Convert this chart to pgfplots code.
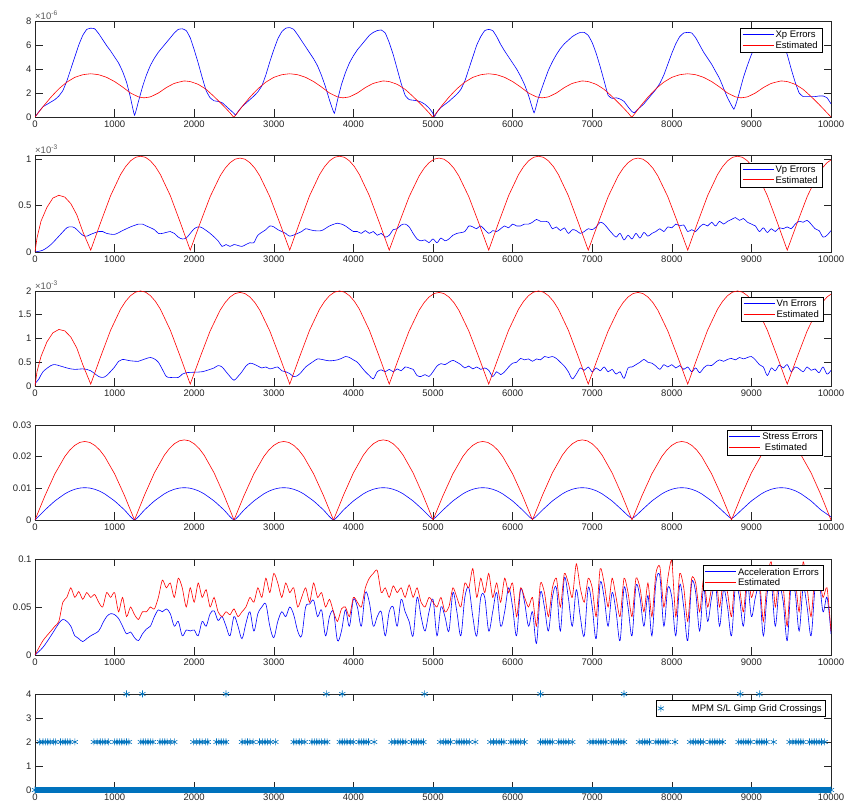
\documentclass[border=0pt]{standalone}
\usepackage{fontspec}
\setmainfont{Liberation Sans}
\usepackage{pgfplots}
\pgfplotsset{compat=1.18}
\definecolor{mblue}{rgb}{0,0.447,0.741}
\definecolor{axgray}{gray}{0.15}
\newcommand{\tfont}{\fontsize{9.5}{11}\selectfont}
\tikzset{sclab/.style={anchor=south west, inner sep=0pt, font=\fontsize{9.5}{10}\selectfont, text=black!65, yshift=1.5pt}}
\pgfplotsset{
  myax/.style={
    scale only axis, width=796pt,
    xmin=0, xmax=10000, ymin=0,
    xtick={0,1000,2000,3000,4000,5000,6000,7000,8000,9000,10000},
    xticklabels={0,1000,2000,3000,4000,5000,6000,7000,8000,9000,10000},
    axis line style={axgray, line width=0.6pt},
    major tick length=7.5pt,
    tick style={axgray, line width=0.6pt},
    tick label style={font=\tfont, text=axgray},
    scaled ticks=false,
    clip mode=individual,
    legend style={anchor=north east, draw, line width=0.5pt, fill=white,
      font=\tfont, inner xsep=2pt, inner ysep=1pt, row sep=-2pt},
    legend cell align=left,
    every axis plot/.append style={line width=0.6pt},
  },
  legblue/.style={legend image code/.code={\node[inner sep=0pt, anchor=west] at (0pt,0pt) {\textcolor{blue}{\rule[-0.4pt]{31pt}{0.8pt}}};}},
  legred/.style={legend image code/.code={\node[inner sep=0pt, anchor=west] at (0pt,0pt) {\textcolor{red}{\rule[-0.4pt]{31pt}{0.8pt}}};}},
}
\begin{document}
\begin{tikzpicture}
\path[use as bounding box] (0,0) rectangle (846pt,803pt);

% ---------------- Axis 1: Xp ----------------
\begin{axis}[myax, at={(35pt,686pt)}, anchor=south west, height=96pt,
  ymax=8, ytick={0,2,4,6,8}, yticklabels={0,2,4,6,8},
  legend style={at={(rel axis cs:0.9887,0.927)}}]
\addplot[color=blue, smooth, tension=0.2, legblue] coordinates {(0,0)(50,0.45)(100,0.85)(150,1.05)(200,1.25)(250,1.45)(300,1.75)(350,2.2)(400,3.0)(450,4.0)(500,5.0)(550,6.0)(600,6.8)(650,7.3)(700,7.4)(750,7.35)(800,6.95)(850,6.45)(900,5.95)(950,5.5)(1000,5.0)(1050,4.5)(1100,3.8)(1150,2.9)(1200,1.6)(1250,0.15)(1300,1.3)(1350,2.5)(1400,3.5)(1450,4.3)(1500,4.9)(1550,5.4)(1600,5.8)(1650,6.2)(1700,6.6)(1750,7.0)(1800,7.3)(1850,7.35)(1900,7.2)(1950,6.6)(2000,5.6)(2050,4.5)(2100,3.3)(2150,2.2)(2200,1.6)(2250,1.35)(2300,1.3)(2350,1.2)(2400,0.9)(2450,0.6)(2500,0.3)(2520,0.15)(2550,0.45)(2600,0.85)(2650,1.15)(2700,1.45)(2750,1.75)(2800,2.1)(2850,2.6)(2900,3.5)(2950,4.6)(3000,5.6)(3050,6.5)(3100,7.1)(3150,7.4)(3200,7.45)(3250,7.3)(3300,6.85)(3350,6.35)(3400,5.85)(3450,5.35)(3500,4.85)(3550,4.25)(3600,3.45)(3650,2.5)(3700,1.4)(3760,0.3)(3800,1.4)(3850,2.7)(3900,3.7)(3950,4.5)(4000,5.1)(4050,5.6)(4100,6.0)(4150,6.4)(4200,6.8)(4250,7.05)(4300,7.2)(4350,7.25)(4400,7.0)(4450,6.2)(4500,5.2)(4550,4.0)(4600,2.8)(4650,1.8)(4700,1.45)(4750,1.4)(4800,1.35)(4850,1.25)(4900,1.05)(4950,0.75)(4990,0.4)(5020,0.05)(5050,0.4)(5100,0.8)(5150,1.05)(5200,1.3)(5250,1.6)(5300,1.9)(5350,2.3)(5400,3.0)(5450,4.0)(5500,5.0)(5550,6.0)(5600,6.7)(5650,7.2)(5700,7.3)(5750,7.2)(5800,6.7)(5850,6.05)(5900,5.5)(5950,5.0)(6000,4.5)(6050,4.0)(6100,3.4)(6150,2.7)(6200,1.8)(6270,0.35)(6320,1.5)(6400,3.0)(6450,3.9)(6500,4.6)(6550,5.2)(6600,5.7)(6650,6.1)(6700,6.4)(6750,6.7)(6800,6.9)(6850,7.05)(6900,7.05)(6950,6.8)(7000,6.2)(7050,5.3)(7100,4.2)(7150,3.0)(7200,1.8)(7250,1.55)(7300,1.6)(7350,1.5)(7400,1.3)(7450,0.85)(7500,0.45)(7530,0.35)(7550,0.5)(7600,0.8)(7650,1.1)(7700,1.5)(7750,1.9)(7800,2.3)(7850,2.8)(7900,3.5)(7950,4.4)(8000,5.3)(8050,6.1)(8100,6.7)(8150,7.0)(8200,7.05)(8250,7.0)(8300,6.6)(8350,6.0)(8400,5.4)(8450,4.9)(8500,4.4)(8550,3.8)(8600,3.2)(8650,2.4)(8700,1.6)(8780,0.65)(8830,1.6)(8900,3.3)(8950,4.3)(9000,5.2)(9050,5.9)(9100,6.5)(9150,6.9)(9200,7.1)(9250,7.15)(9300,7.1)(9350,6.8)(9400,6.2)(9450,5.2)(9500,4.0)(9550,2.9)(9600,2.0)(9650,1.7)(9700,1.7)(9750,1.7)(9800,1.7)(9850,1.75)(9900,1.75)(9950,1.6)(10000,1.1)};
\addlegendentry{Xp Errors}
\addplot[color=red, smooth, tension=0.2, legred] coordinates {(0,0)(100,0.85)(200,1.65)(300,2.35)(400,2.9)(500,3.3)(600,3.52)(700,3.6)(800,3.52)(900,3.3)(1000,2.95)(1100,2.5)(1200,2.0)(1300,1.68)(1370,1.6)(1450,1.68)(1550,2.0)(1650,2.45)(1750,2.8)(1870,3.0)(1950,2.95)(2050,2.72)(2150,2.3)(2250,1.7)(2350,1.05)(2450,0.35)(2500,0)(2600,0.85)(2700,1.65)(2800,2.35)(2900,2.9)(3000,3.3)(3100,3.52)(3200,3.6)(3300,3.52)(3400,3.3)(3500,2.95)(3600,2.5)(3700,2.0)(3800,1.68)(3870,1.6)(3950,1.68)(4050,2.0)(4150,2.45)(4250,2.8)(4370,3.0)(4450,2.95)(4550,2.72)(4650,2.3)(4750,1.7)(4850,1.05)(4950,0.35)(5000,0)(5100,0.85)(5200,1.65)(5300,2.35)(5400,2.9)(5500,3.3)(5600,3.52)(5700,3.6)(5800,3.52)(5900,3.3)(6000,2.95)(6100,2.5)(6200,2.0)(6300,1.68)(6370,1.6)(6450,1.68)(6550,2.0)(6650,2.45)(6750,2.8)(6870,3.0)(6950,2.95)(7050,2.72)(7150,2.3)(7250,1.7)(7350,1.05)(7450,0.35)(7500,0)(7600,0.85)(7700,1.65)(7800,2.35)(7900,2.9)(8000,3.3)(8100,3.52)(8200,3.6)(8300,3.52)(8400,3.3)(8500,2.95)(8600,2.5)(8700,2.0)(8800,1.68)(8870,1.6)(8950,1.68)(9050,2.0)(9150,2.45)(9250,2.8)(9370,3.0)(9450,2.95)(9550,2.72)(9650,2.3)(9750,1.7)(9850,1.05)(9950,0.35)(10000,0)};
\addlegendentry{Estimated}
\node[sclab] at (rel axis cs:0,1) {×10\textsuperscript{-6}};
\end{axis}

% ---------------- Axis 2: Vp ----------------
\begin{axis}[myax, at={(35pt,551pt)}, anchor=south west, height=97pt,
  ymax=1.043, ytick={0,0.5,1}, yticklabels={0,0.5,1},
  legend style={at={(rel axis cs:0.9887,0.918)}}]
\addplot[color=blue, smooth, tension=0.5, legblue] coordinates {(0,0)(100,0.02)(200,0.08)(300,0.17)(400,0.26)(450,0.27)(500,0.26)(600,0.18)(650,0.17)(700,0.19)(800,0.22)(850,0.22)(900,0.2)(1000,0.19)(1100,0.23)(1200,0.27)(1300,0.3)(1350,0.3)(1400,0.28)(1500,0.24)(1550,0.2)(1600,0.2)(1700,0.22)(1750,0.2)(1800,0.16)(1850,0.14)(1900,0.15)(1950,0.2)(2000,0.25)(2050,0.27)(2100,0.26)(2200,0.2)(2300,0.12)(2350,0.06)(2400,0.08)(2450,0.06)(2500,0.08)(2550,0.07)(2600,0.06)(2650,0.08)(2700,0.1)(2750,0.1)(2800,0.18)(2900,0.24)(2950,0.28)(3000,0.27)(3050,0.24)(3100,0.22)(3150,0.2)(3200,0.17)(3300,0.2)(3350,0.22)(3400,0.25)(3450,0.24)(3500,0.23)(3600,0.23)(3700,0.28)(3800,0.31)(3850,0.3)(3900,0.28)(4000,0.22)(4050,0.22)(4100,0.2)(4150,0.23)(4200,0.2)(4250,0.22)(4300,0.18)(4350,0.2)(4400,0.16)(4450,0.18)(4500,0.24)(4550,0.25)(4600,0.29)(4650,0.3)(4700,0.27)(4750,0.2)(4800,0.14)(4850,0.12)(4900,0.13)(4950,0.1)(5000,0.14)(5050,0.1)(5100,0.15)(5150,0.12)(5200,0.14)(5250,0.18)(5300,0.2)(5400,0.22)(5450,0.28)(5500,0.27)(5550,0.25)(5600,0.28)(5700,0.2)(5750,0.23)(5800,0.22)(5850,0.25)(5900,0.28)(5950,0.26)(6000,0.3)(6050,0.28)(6100,0.28)(6150,0.3)(6200,0.3)(6250,0.32)(6300,0.35)(6350,0.33)(6400,0.33)(6450,0.32)(6500,0.25)(6550,0.27)(6600,0.23)(6650,0.26)(6700,0.2)(6750,0.24)(6800,0.23)(6850,0.2)(6900,0.22)(6950,0.25)(7000,0.24)(7050,0.27)(7100,0.32)(7150,0.3)(7200,0.25)(7250,0.2)(7300,0.16)(7350,0.2)(7400,0.13)(7450,0.18)(7500,0.14)(7550,0.2)(7600,0.15)(7650,0.21)(7700,0.17)(7750,0.2)(7800,0.22)(7850,0.25)(7900,0.22)(7950,0.27)(8000,0.26)(8050,0.3)(8100,0.28)(8150,0.29)(8200,0.22)(8250,0.24)(8300,0.22)(8350,0.27)(8400,0.3)(8450,0.28)(8500,0.32)(8550,0.28)(8600,0.33)(8650,0.3)(8700,0.33)(8750,0.35)(8800,0.37)(8850,0.34)(8900,0.36)(8950,0.32)(9000,0.3)(9050,0.28)(9100,0.22)(9150,0.26)(9200,0.21)(9250,0.25)(9300,0.22)(9350,0.26)(9400,0.25)(9450,0.27)(9500,0.25)(9550,0.3)(9600,0.33)(9650,0.32)(9700,0.34)(9750,0.3)(9800,0.25)(9850,0.23)(9900,0.16)(9950,0.18)(10000,0.23)};
\addlegendentry{Vp Errors}
\addplot[color=red, legred] coordinates {(0,0)(25,0.15)(75,0.33)(150,0.48)(225,0.58)(300,0.61)(375,0.59)(450,0.52)(525,0.4)(600,0.22)(700,0.02)
(825,0.318)(950,0.606)(1075,0.833)(1138,0.918)(1200,0.98)(1263,1.018)(1325,1.03)(1388,1.018)(1450,0.98)(1513,0.918)(1575,0.833)(1700,0.606)(1825,0.318)(1950,0.02)
(2075,0.312)(2200,0.594)(2325,0.817)(2388,0.9)(2450,0.96)(2513,0.998)(2575,1.01)(2638,0.998)(2700,0.96)(2763,0.9)(2825,0.817)(2950,0.594)(3075,0.312)(3200,0.02)
(3325,0.318)(3450,0.606)(3575,0.833)(3638,0.918)(3700,0.98)(3763,1.018)(3825,1.03)(3888,1.018)(3950,0.98)(4013,0.918)(4075,0.833)(4200,0.606)(4325,0.318)(4450,0.02)
(4575,0.312)(4700,0.594)(4825,0.817)(4888,0.9)(4950,0.96)(5013,0.998)(5075,1.01)(5138,0.998)(5200,0.96)(5263,0.9)(5325,0.817)(5450,0.594)(5575,0.312)(5700,0.02)
(5825,0.318)(5950,0.606)(6075,0.833)(6138,0.918)(6200,0.98)(6263,1.018)(6325,1.03)(6388,1.018)(6450,0.98)(6513,0.918)(6575,0.833)(6700,0.606)(6825,0.318)(6950,0.02)
(7075,0.312)(7200,0.594)(7325,0.817)(7388,0.9)(7450,0.96)(7513,0.998)(7575,1.01)(7638,0.998)(7700,0.96)(7763,0.9)(7825,0.817)(7950,0.594)(8075,0.312)(8200,0.02)
(8325,0.318)(8450,0.606)(8575,0.833)(8638,0.918)(8700,0.98)(8763,1.018)(8825,1.03)(8888,1.018)(8950,0.98)(9013,0.918)(9075,0.833)(9200,0.606)(9325,0.318)(9450,0.02)
(9575,0.312)(9700,0.594)(9825,0.817)(9888,0.9)(9950,0.96)(10000,0.99)};
\addlegendentry{Estimated}
\node[sclab] at (rel axis cs:0,1) {×10\textsuperscript{-3}};
\end{axis}

% ---------------- Axis 3: Vn ----------------
\begin{axis}[myax, at={(35pt,417pt)}, anchor=south west, height=95pt,
  ymax=2.0, ytick={0,0.5,1,1.5,2}, yticklabels={0,0.5,1,1.5,2},
  legend style={at={(rel axis cs:0.99,0.937)}}]
\addplot[color=blue, smooth, tension=0.5, legblue] coordinates {(0,0.05)(50,0.15)(100,0.3)(200,0.43)(250,0.45)(300,0.43)(400,0.38)(450,0.36)(500,0.35)(600,0.36)(650,0.35)(700,0.32)(750,0.26)(800,0.2)(850,0.18)(900,0.22)(1000,0.4)(1050,0.52)(1100,0.56)(1200,0.53)(1300,0.52)(1350,0.55)(1400,0.58)(1450,0.6)(1500,0.57)(1550,0.5)(1600,0.35)(1650,0.2)(1700,0.18)(1800,0.18)(1850,0.25)(1900,0.28)(2000,0.29)(2100,0.3)(2200,0.35)(2250,0.38)(2300,0.43)(2350,0.4)(2400,0.3)(2450,0.2)(2500,0.12)(2550,0.2)(2600,0.3)(2650,0.42)(2700,0.48)(2750,0.46)(2800,0.42)(2850,0.38)(2900,0.4)(2950,0.36)(3000,0.38)(3050,0.4)(3100,0.32)(3150,0.3)(3200,0.26)(3250,0.2)(3300,0.22)(3350,0.3)(3400,0.4)(3500,0.52)(3550,0.57)(3600,0.56)(3700,0.53)(3800,0.55)(3850,0.58)(3900,0.62)(3950,0.6)(4000,0.55)(4050,0.5)(4100,0.4)(4150,0.3)(4200,0.22)(4250,0.15)(4300,0.3)(4350,0.34)(4400,0.3)(4450,0.35)(4500,0.3)(4550,0.36)(4600,0.32)(4650,0.4)(4700,0.38)(4750,0.35)(4800,0.22)(4850,0.2)(4900,0.24)(4950,0.2)(5000,0.3)(5050,0.42)(5100,0.47)(5150,0.45)(5200,0.5)(5250,0.54)(5300,0.5)(5350,0.45)(5400,0.38)(5450,0.42)(5500,0.36)(5550,0.4)(5600,0.35)(5650,0.38)(5700,0.33)(5750,0.2)(5800,0.3)(5850,0.24)(5900,0.3)(5950,0.4)(6000,0.48)(6050,0.5)(6100,0.58)(6150,0.55)(6200,0.57)(6250,0.52)(6300,0.57)(6350,0.55)(6400,0.62)(6450,0.6)(6500,0.62)(6550,0.58)(6600,0.5)(6650,0.42)(6700,0.3)(6750,0.15)(6800,0.25)(6850,0.38)(6900,0.33)(6950,0.4)(7000,0.3)(7050,0.38)(7100,0.32)(7150,0.4)(7200,0.3)(7250,0.35)(7300,0.25)(7350,0.3)(7400,0.16)(7450,0.38)(7500,0.4)(7550,0.45)(7600,0.5)(7650,0.56)(7700,0.5)(7750,0.48)(7800,0.42)(7850,0.35)(7900,0.45)(7950,0.4)(8000,0.45)(8050,0.38)(8100,0.43)(8150,0.35)(8200,0.4)(8250,0.3)(8300,0.38)(8350,0.28)(8400,0.38)(8450,0.44)(8500,0.43)(8550,0.5)(8600,0.55)(8650,0.52)(8700,0.56)(8750,0.58)(8800,0.55)(8850,0.6)(8900,0.57)(8950,0.6)(9000,0.62)(9050,0.55)(9100,0.45)(9150,0.4)(9200,0.22)(9250,0.38)(9300,0.32)(9350,0.44)(9400,0.38)(9450,0.45)(9500,0.3)(9550,0.4)(9600,0.36)(9650,0.3)(9700,0.4)(9750,0.33)(9800,0.36)(9850,0.28)(9900,0.4)(9950,0.25)(10000,0.33)};
\addlegendentry{Vn Errors}
\addplot[color=red, legred] coordinates {(0,0)(25,0.3)(75,0.62)(150,0.93)(225,1.12)(300,1.19)(375,1.16)(450,1.03)(525,0.8)(600,0.45)(700,0.04)
(825,0.618)(950,1.176)(1075,1.618)(1138,1.782)(1200,1.902)(1263,1.976)(1325,2.0)(1388,1.976)(1450,1.902)(1513,1.782)(1575,1.618)(1700,1.176)(1825,0.618)(1950,0.04)
(2075,0.609)(2200,1.158)(2325,1.594)(2388,1.755)(2450,1.873)(2513,1.946)(2575,1.97)(2638,1.946)(2700,1.873)(2763,1.755)(2825,1.594)(2950,1.158)(3075,0.609)(3200,0.04)
(3325,0.618)(3450,1.176)(3575,1.618)(3638,1.782)(3700,1.902)(3763,1.976)(3825,2.0)(3888,1.976)(3950,1.902)(4013,1.782)(4075,1.618)(4200,1.176)(4325,0.618)(4450,0.04)
(4575,0.609)(4700,1.158)(4825,1.594)(4888,1.755)(4950,1.873)(5013,1.946)(5075,1.97)(5138,1.946)(5200,1.873)(5263,1.755)(5325,1.594)(5450,1.158)(5575,0.609)(5700,0.04)
(5825,0.618)(5950,1.176)(6075,1.618)(6138,1.782)(6200,1.902)(6263,1.976)(6325,2.0)(6388,1.976)(6450,1.902)(6513,1.782)(6575,1.618)(6700,1.176)(6825,0.618)(6950,0.04)
(7075,0.609)(7200,1.158)(7325,1.594)(7388,1.755)(7450,1.873)(7513,1.946)(7575,1.97)(7638,1.946)(7700,1.873)(7763,1.755)(7825,1.594)(7950,1.158)(8075,0.609)(8200,0.04)
(8325,0.618)(8450,1.176)(8575,1.618)(8638,1.782)(8700,1.902)(8763,1.976)(8825,2.0)(8888,1.976)(8950,1.902)(9013,1.782)(9075,1.618)(9200,1.176)(9325,0.618)(9450,0.04)
(9575,0.609)(9700,1.158)(9825,1.594)(9888,1.755)(9950,1.873)(10000,1.935)};
\addlegendentry{Estimated}
\node[sclab] at (rel axis cs:0,1) {×10\textsuperscript{-3}};
\end{axis}

% ---------------- Axis 4: Stress ----------------
\begin{axis}[myax, at={(35pt,283pt)}, anchor=south west, height=95pt,
  ymax=0.03, ytick={0,0.01,0.02,0.03}, yticklabels={0,0.01,0.02,0.03},
  legend style={at={(rel axis cs:0.9887,0.947)}}]
\addplot[color=blue, smooth, tension=0.3, legblue] coordinates {(0,0)(125,0.00315)(250,0.006)(375,0.00825)(438,0.00909)(500,0.0097)(563,0.01008)(625,0.0102)(688,0.01008)(750,0.0097)(813,0.00909)(875,0.00825)(1000,0.006)(1125,0.00315)(1250,0)
(1375,0.00315)(1500,0.006)(1625,0.00825)(1688,0.00909)(1750,0.0097)(1813,0.01008)(1875,0.0102)(1938,0.01008)(2000,0.0097)(2063,0.00909)(2125,0.00825)(2250,0.006)(2375,0.00315)(2500,0)
(2625,0.00315)(2750,0.006)(2875,0.00825)(2938,0.00909)(3000,0.0097)(3063,0.01008)(3125,0.0102)(3188,0.01008)(3250,0.0097)(3313,0.00909)(3375,0.00825)(3500,0.006)(3625,0.00315)(3750,0)
(3875,0.00315)(4000,0.006)(4125,0.00825)(4188,0.00909)(4250,0.0097)(4313,0.01008)(4375,0.0102)(4438,0.01008)(4500,0.0097)(4563,0.00909)(4625,0.00825)(4750,0.006)(4875,0.00315)(5000,0.0003)
(5125,0.00315)(5250,0.006)(5375,0.00825)(5438,0.00909)(5500,0.0097)(5563,0.01008)(5625,0.0102)(5688,0.01008)(5750,0.0097)(5813,0.00909)(5875,0.00825)(6000,0.006)(6125,0.00315)(6250,0.0003)
(6375,0.00315)(6500,0.006)(6625,0.00825)(6688,0.00909)(6750,0.0097)(6813,0.01008)(6875,0.0102)(6938,0.01008)(7000,0.0097)(7063,0.00909)(7125,0.00825)(7250,0.006)(7375,0.00315)(7500,0.0005)
(7625,0.00315)(7750,0.006)(7875,0.00825)(7938,0.00909)(8000,0.0097)(8063,0.01008)(8125,0.0102)(8188,0.01008)(8250,0.0097)(8313,0.00909)(8375,0.00825)(8500,0.006)(8625,0.00315)(8750,0.0005)
(8875,0.00315)(9000,0.006)(9125,0.00825)(9188,0.00909)(9250,0.0097)(9313,0.01008)(9375,0.0102)(9438,0.01008)(9500,0.0097)(9563,0.00909)(9625,0.00825)(9750,0.006)(9875,0.00315)(10000,0.001)};
\addlegendentry{Stress Errors}
\addplot[color=red, legred] coordinates {(0,0)(125,0.00766)(250,0.01458)(375,0.02006)(438,0.0221)(500,0.02358)(563,0.0245)(625,0.0248)(688,0.0245)(750,0.02358)(813,0.0221)(875,0.02006)(1000,0.01458)(1125,0.00766)(1250,0)
(1375,0.00782)(1500,0.01488)(1625,0.02047)(1688,0.02254)(1750,0.02406)(1813,0.025)(1875,0.0253)(1938,0.025)(2000,0.02406)(2063,0.02254)(2125,0.02047)(2250,0.01488)(2375,0.00782)(2500,0)
(2625,0.00766)(2750,0.01458)(2875,0.02006)(2938,0.0221)(3000,0.02358)(3063,0.0245)(3125,0.0248)(3188,0.0245)(3250,0.02358)(3313,0.0221)(3375,0.02006)(3500,0.01458)(3625,0.00766)(3750,0)
(3875,0.00782)(4000,0.01488)(4125,0.02047)(4188,0.02254)(4250,0.02406)(4313,0.025)(4375,0.0253)(4438,0.025)(4500,0.02406)(4563,0.02254)(4625,0.02047)(4750,0.01488)(4875,0.00782)(5000,0)
(5125,0.00766)(5250,0.01458)(5375,0.02006)(5438,0.0221)(5500,0.02358)(5563,0.0245)(5625,0.0248)(5688,0.0245)(5750,0.02358)(5813,0.0221)(5875,0.02006)(6000,0.01458)(6125,0.00766)(6250,0)
(6375,0.00782)(6500,0.01488)(6625,0.02047)(6688,0.02254)(6750,0.02406)(6813,0.025)(6875,0.0253)(6938,0.025)(7000,0.02406)(7063,0.02254)(7125,0.02047)(7250,0.01488)(7375,0.00782)(7500,0)
(7625,0.00766)(7750,0.01458)(7875,0.02006)(7938,0.0221)(8000,0.02358)(8063,0.0245)(8125,0.0248)(8188,0.0245)(8250,0.02358)(8313,0.0221)(8375,0.02006)(8500,0.01458)(8625,0.00766)(8750,0)
(8875,0.00782)(9000,0.01488)(9125,0.02047)(9188,0.02254)(9250,0.02406)(9313,0.025)(9375,0.0253)(9438,0.025)(9500,0.02406)(9563,0.02254)(9625,0.02047)(9750,0.01488)(9875,0.00782)(10000,0)};
\addlegendentry{\ Estimated}
\end{axis}

% ---------------- Axis 5: Acceleration ----------------
\begin{axis}[myax, at={(35pt,148pt)}, anchor=south west, height=96pt,
  ymax=0.1, ytick={0,0.05,0.1}, yticklabels={0,0.05,0.1},
  legend style={at={(rel axis cs:0.99,0.9375)}}]
\addplot[color=blue, smooth, tension=0.55, legblue] coordinates {(0,0)(100,0.008)(200,0.02)(300,0.033)(350,0.037)(400,0.035)(450,0.03)(500,0.02)(550,0.017)(600,0.014)(650,0.017)(700,0.02)(800,0.025)(850,0.033)(900,0.04)(950,0.043)(1000,0.042)(1050,0.038)(1100,0.03)(1150,0.022)(1200,0.024)(1250,0.018)(1300,0.015)(1350,0.022)(1400,0.027)(1450,0.03)(1500,0.04)(1550,0.047)(1600,0.045)(1650,0.048)(1700,0.043)(1750,0.03)(1800,0.035)(1850,0.02)(1900,0.026)(1950,0.025)(2000,0.026)(2050,0.02)(2100,0.035)(2150,0.03)(2200,0.043)(2250,0.046)(2300,0.036)(2350,0.04)(2400,0.03)(2450,0.02)(2500,0.04)(2550,0.03)(2600,0.017)(2650,0.033)(2700,0.045)(2750,0.025)(2800,0.043)(2850,0.05)(2900,0.053)(2950,0.03)(3000,0.018)(3050,0.035)(3100,0.045)(3150,0.04)(3200,0.05)(3250,0.042)(3300,0.025)(3350,0.02)(3400,0.05)(3450,0.053)(3500,0.057)(3550,0.04)(3600,0.047)(3650,0.02)(3700,0.04)(3750,0.045)(3800,0.015)(3850,0.025)(3900,0.047)(3950,0.03)(4000,0.058)(4050,0.05)(4100,0.03)(4150,0.065)(4200,0.055)(4250,0.03)(4300,0.04)(4350,0.045)(4400,0.02)(4450,0.045)(4500,0.05)(4550,0.03)(4600,0.058)(4650,0.045)(4700,0.035)(4750,0.02)(4800,0.06)(4850,0.04)(4900,0.025)(4950,0.045)(5000,0.058)(5050,0.02)(5100,0.05)(5150,0.04)(5200,0.025)(5250,0.065)(5300,0.045)(5350,0.02)(5400,0.06)(5450,0.07)(5500,0.04)(5550,0.02)(5600,0.06)(5650,0.06)(5700,0.025)(5750,0.045)(5800,0.065)(5850,0.03)(5900,0.045)(5950,0.07)(6000,0.05)(6050,0.02)(6100,0.068)(6150,0.055)(6200,0.03)(6250,0.045)(6300,0.012)(6350,0.065)(6400,0.05)(6450,0.025)(6500,0.06)(6550,0.07)(6600,0.025)(6650,0.08)(6700,0.06)(6750,0.03)(6800,0.068)(6850,0.04)(6900,0.02)(6950,0.07)(7000,0.05)(7050,0.017)(7100,0.075)(7150,0.06)(7200,0.03)(7250,0.065)(7300,0.045)(7350,0.015)(7400,0.07)(7450,0.05)(7500,0.02)(7550,0.072)(7600,0.06)(7650,0.03)(7700,0.062)(7750,0.02)(7800,0.075)(7850,0.082)(7900,0.03)(7950,0.07)(8000,0.06)(8050,0.02)(8100,0.073)(8150,0.05)(8200,0.015)(8250,0.075)(8300,0.065)(8350,0.025)(8400,0.07)(8450,0.035)(8500,0.06)(8550,0.073)(8600,0.03)(8650,0.068)(8700,0.05)(8750,0.02)(8800,0.072)(8850,0.06)(8900,0.03)(8950,0.075)(9000,0.04)(9050,0.06)(9100,0.07)(9150,0.02)(9200,0.065)(9250,0.075)(9300,0.03)(9350,0.07)(9400,0.055)(9450,0.015)(9500,0.075)(9550,0.065)(9600,0.025)(9650,0.07)(9700,0.05)(9750,0.02)(9800,0.07)(9850,0.078)(9900,0.045)(9950,0.06)(10000,0.022)};
\addlegendentry{Acceleration Errors}
\addplot[color=red, smooth, tension=0.4, legred] coordinates {(0,0)(100,0.015)(200,0.025)(250,0.03)(300,0.035)(350,0.055)(400,0.06)(450,0.07)(500,0.06)(550,0.066)(600,0.058)(650,0.065)(700,0.06)(750,0.063)(800,0.055)(850,0.05)(900,0.065)(950,0.06)(1000,0.065)(1050,0.045)(1100,0.06)(1150,0.04)(1200,0.05)(1250,0.042)(1300,0.037)(1350,0.045)(1400,0.045)(1450,0.05)(1500,0.048)(1550,0.06)(1600,0.078)(1650,0.07)(1700,0.075)(1750,0.06)(1800,0.08)(1850,0.07)(1900,0.05)(1950,0.07)(2000,0.055)(2050,0.075)(2100,0.06)(2150,0.068)(2200,0.05)(2250,0.06)(2300,0.045)(2350,0.04)(2400,0.045)(2450,0.042)(2500,0.048)(2550,0.04)(2600,0.045)(2650,0.05)(2700,0.06)(2750,0.055)(2800,0.07)(2850,0.06)(2900,0.08)(2950,0.065)(3000,0.085)(3050,0.075)(3100,0.06)(3150,0.075)(3200,0.065)(3250,0.07)(3300,0.05)(3350,0.06)(3400,0.07)(3450,0.055)(3500,0.075)(3550,0.06)(3600,0.065)(3650,0.05)(3700,0.058)(3750,0.045)(3800,0.035)(3850,0.048)(3900,0.05)(3950,0.04)(4000,0.06)(4050,0.055)(4100,0.05)(4150,0.07)(4200,0.08)(4250,0.085)(4300,0.088)(4350,0.065)(4400,0.07)(4450,0.06)(4500,0.072)(4550,0.065)(4600,0.07)(4650,0.06)(4700,0.073)(4750,0.06)(4800,0.07)(4850,0.055)(4900,0.05)(4950,0.06)(5000,0.055)(5050,0.05)(5100,0.06)(5150,0.045)(5200,0.05)(5250,0.07)(5300,0.06)(5350,0.05)(5400,0.075)(5450,0.07)(5500,0.09)(5550,0.06)(5600,0.08)(5650,0.065)(5700,0.085)(5750,0.06)(5800,0.075)(5850,0.055)(5900,0.08)(5950,0.065)(6000,0.075)(6050,0.04)(6100,0.07)(6150,0.06)(6200,0.05)(6250,0.06)(6300,0.03)(6350,0.075)(6400,0.065)(6450,0.04)(6500,0.07)(6550,0.08)(6600,0.05)(6650,0.085)(6700,0.075)(6750,0.06)(6800,0.095)(6850,0.07)(6900,0.055)(6950,0.08)(7000,0.07)(7050,0.04)(7100,0.09)(7150,0.075)(7200,0.05)(7250,0.08)(7300,0.06)(7350,0.04)(7400,0.08)(7450,0.065)(7500,0.04)(7550,0.08)(7600,0.07)(7650,0.045)(7700,0.075)(7750,0.04)(7800,0.085)(7850,0.092)(7900,0.05)(7950,0.08)(8000,0.098)(8050,0.04)(8100,0.085)(8150,0.07)(8200,0.035)(8250,0.08)(8300,0.075)(8350,0.045)(8400,0.08)(8450,0.05)(8500,0.07)(8550,0.085)(8600,0.05)(8650,0.08)(8700,0.065)(8750,0.04)(8800,0.085)(8850,0.07)(8900,0.045)(8950,0.085)(9000,0.06)(9050,0.075)(9100,0.08)(9150,0.035)(9200,0.08)(9250,0.097)(9300,0.05)(9350,0.085)(9400,0.07)(9450,0.03)(9500,0.09)(9550,0.08)(9600,0.045)(9650,0.097)(9700,0.07)(9750,0.04)(9800,0.085)(9850,0.08)(9900,0.06)(9950,0.07)(10000,0.025)};
\addlegendentry{Estimated}
\end{axis}

% ---------------- Axis 6: Grid crossings ----------------
\begin{axis}[myax, at={(35pt,13pt)}, anchor=south west, height=96pt,
  ymax=4, ytick={0,1,2,3,4}, yticklabels={0,1,2,3,4}, clip=false,
  legend style={at={(rel axis cs:0.9937,0.9375)}, inner xsep=2pt, inner ysep=2pt}]
\addplot[color=mblue, line width=6.5pt, forget plot] coordinates {(0,0)(10000,0)};
\addplot[color=mblue, only marks, mark=asterisk, mark size=3.5pt, forget plot] coordinates {(0,0)(10000,0)};
\addplot[color=mblue, only marks, mark=asterisk, mark size=3.5pt] coordinates {
(60,2)(100,2)(130,2)(160,2)(190,2)(230,2)(260,2)(320,2)(350,2)(380,2)(410,2)(440,2)(500,2)
(740,2)(780,2)(820,2)(850,2)(880,2)(920,2)(1000,2)(1030,2)(1060,2)(1090,2)(1120,2)(1150,2)(1180,2)
(1330,2)(1360,2)(1390,2)(1420,2)(1450,2)(1480,2)(1570,2)(1600,2)(1630,2)(1660,2)(1700,2)(1750,2)
(1990,2)(2030,2)(2070,2)(2100,2)(2140,2)(2170,2)(2280,2)(2310,2)(2340,2)(2370,2)(2400,2)
(2600,2)(2640,2)(2670,2)(2700,2)(2740,2)(2820,2)(2860,2)(2890,2)(2920,2)(2960,2)(3020,2)
(3250,2)(3280,2)(3320,2)(3350,2)(3390,2)(3480,2)(3510,2)(3540,2)(3570,2)(3600,2)(3640,2)(3670,2)
(3830,2)(3860,2)(3890,2)(3920,2)(3960,2)(4000,2)(4070,2)(4100,2)(4130,2)(4160,2)(4190,2)(4260,2)
(4480,2)(4520,2)(4560,2)(4590,2)(4620,2)(4660,2)(4730,2)(4760,2)(4790,2)(4820,2)(4850,2)(4880,2)
(5090,2)(5130,2)(5160,2)(5190,2)(5220,2)(5300,2)(5330,2)(5360,2)(5390,2)(5420,2)(5460,2)(5530,2)
(5720,2)(5760,2)(5800,2)(5830,2)(5860,2)(5890,2)(5980,2)(6010,2)(6040,2)(6070,2)(6100,2)(6150,2)
(6350,2)(6380,2)(6410,2)(6440,2)(6470,2)(6500,2)(6580,2)(6610,2)(6640,2)(6670,2)(6700,2)(6750,2)
(6970,2)(7010,2)(7050,2)(7080,2)(7110,2)(7140,2)(7170,2)(7240,2)(7270,2)(7300,2)(7330,2)(7360,2)(7400,2)
(7590,2)(7630,2)(7660,2)(7690,2)(7720,2)(7800,2)(7830,2)(7860,2)(7890,2)(7920,2)(7950,2)(8040,2)
(8230,2)(8270,2)(8300,2)(8330,2)(8360,2)(8400,2)(8480,2)(8510,2)(8540,2)(8570,2)(8600,2)(8640,2)
(8840,2)(8870,2)(8900,2)(8930,2)(8960,2)(8990,2)(9070,2)(9100,2)(9130,2)(9160,2)(9190,2)(9280,2)
(9480,2)(9520,2)(9560,2)(9590,2)(9620,2)(9650,2)(9730,2)(9760,2)(9790,2)(9820,2)(9850,2)(9880,2)(9920,2)
(1150,4)(1350,4)(2400,4)(3660,4)(3860,4)(4895,4)(6350,4)(7400,4)(8860,4)(9100,4)};
\addlegendentry{\hspace{26pt}MPM S/L Gimp Grid Crossings}
\end{axis}
\end{tikzpicture}
\end{document}
